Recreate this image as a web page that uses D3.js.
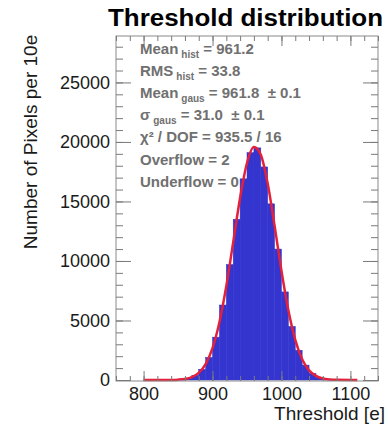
<!DOCTYPE html>
<html>
<head>
<meta charset="utf-8">
<script src="https://cdn.jsdelivr.net/npm/d3@7"></script>
<style>
  body { margin: 0; background: #fff; }
  text { font-family: "Liberation Sans", Arial, sans-serif; white-space: pre; }
</style>
</head>
<body>
<svg id="chart" width="388" height="428"></svg>
<script>
// histogram bins (left edge, 10e wide) and counts
let binEdges = [850, 860, 870, 880, 890, 900, 910, 920, 930, 940, 950, 960,
                970, 980, 990, 1000, 1010, 1020, 1030, 1040, 1050, 1060, 1070];
let binCounts = [50, 150, 390, 900, 1900, 3600, 6300, 9700, 13500, 16900, 19100, 19500,
                 17900, 14800, 11000, 7400, 4500, 2500, 1250, 560, 220, 80, 25];

let fitX = [800, 820, 840, 850, 860, 870, 880, 890, 900, 910, 920, 930, 940, 950, 960,
            970, 980, 990, 1000, 1010, 1020, 1030, 1040, 1050, 1060, 1070, 1080, 1100, 1110];
let fitY = [0, 1, 9, 30, 89, 245, 600, 1340, 2680, 4850, 7900, 11580, 15310, 18230, 19570,
            18920, 16500, 12960, 9170, 5850, 3370, 1740, 810, 343, 130, 44, 13, 1, 0];

let xTicks = [800, 900, 1000, 1100];
let yTicks = [0, 5000, 10000, 15000, 20000, 25000];

let stats = [
    ["Mean", "hist", " = 961.2"],
    ["RMS", "hist", " = 33.8"],
    ["Mean", "gaus", " = 961.8  \u00b1 0.1"],
    ["\u03c3", "gaus", " = 31.0  \u00b1 0.1"],
    ["\u03c7\u00b2 / DOF = 935.5 / 16", "", ""],
    ["Overflow = 2", "", ""],
    ["Underflow = 0", "", ""]
];

let frame = {left: 116, right: 378, top: 36, bottom: 381};

let svg = d3.select("#chart");

let x = d3.scaleLinear().domain([760, 1140]).range([frame.left, frame.right]);
let y = d3.scaleLinear().domain([0, 28900]).range([380, frame.top]);

// bars
svg.append("g")
    .selectAll("rect")
    .data(binEdges)
    .enter()
    .append("rect")
    .attr("x", d => x(d))
    .attr("width", d => x(d + 10) - x(d))
    .attr("y", (d, i) => y(binCounts[i]))
    .attr("height", (d, i) => y(0) - y(binCounts[i]))
    .attr("fill", "#3434cf")
    .attr("stroke", "#3434cf")
    .attr("stroke-width", 0.5);

// fit
let line = d3.line()
    .x(d => x(d[0]))
    .y(d => y(d[1]))
    .curve(d3.curveMonotoneX);

svg.append("path")
    .datum(fitX.map((v, i) => [v, fitY[i]]))
    .attr("d", line)
    .attr("fill", "none")
    .attr("stroke", "#e3213b")
    .attr("stroke-width", 2.5);

// frame
svg.append("rect")
    .attr("x", frame.left)
    .attr("y", frame.top)
    .attr("width", frame.right - frame.left)
    .attr("height", frame.bottom - frame.top)
    .attr("fill", "none")
    .attr("stroke", "#8a8a8a")
    .attr("stroke-width", 1);

function styleAxis(g) {
    g.select(".domain").remove();
    g.selectAll("line").attr("stroke", "#7a7a7a");
    g.selectAll("text")
        .attr("font-size", 18)
        .attr("fill", "#1a1a1a")
        .style("font-family", '"Liberation Sans", Arial, sans-serif');
}

let minorX = d3.range(760, 1141, 20);
let minorY = d3.range(0, 28001, 1000);

// bottom axis
svg.append("g")
    .attr("transform", `translate(0,${frame.bottom})`)
    .call(d3.axisBottom(x).tickValues(minorX).tickSize(-5).tickFormat(""))
    .call(styleAxis);
svg.append("g")
    .attr("transform", `translate(0,${frame.bottom})`)
    .call(d3.axisBottom(x).tickValues(xTicks).tickSize(-10).tickPadding(6).tickFormat(d3.format("d")))
    .call(styleAxis);

// top axis
svg.append("g")
    .attr("transform", `translate(0,${frame.top})`)
    .call(d3.axisTop(x).tickValues(minorX).tickSize(-5).tickFormat(""))
    .call(styleAxis);
svg.append("g")
    .attr("transform", `translate(0,${frame.top})`)
    .call(d3.axisTop(x).tickValues(xTicks).tickSize(-10).tickFormat(""))
    .call(styleAxis);

// left axis
svg.append("g")
    .attr("transform", `translate(${frame.left},0)`)
    .call(d3.axisLeft(y).tickValues(minorY).tickSize(-7).tickFormat(""))
    .call(styleAxis);
svg.append("g")
    .attr("transform", `translate(${frame.left},0)`)
    .call(d3.axisLeft(y).tickValues(yTicks).tickSize(-15).tickPadding(6).tickFormat(d3.format("d")))
    .call(styleAxis);

// right axis
svg.append("g")
    .attr("transform", `translate(${frame.right},0)`)
    .call(d3.axisRight(y).tickValues(minorY).tickSize(-7).tickFormat(""))
    .call(styleAxis);
svg.append("g")
    .attr("transform", `translate(${frame.right},0)`)
    .call(d3.axisRight(y).tickValues(yTicks).tickSize(-15).tickFormat(""))
    .call(styleAxis);

// title
svg.append("text")
    .attr("x", 108)
    .attr("y", 26)
    .attr("font-size", 23)
    .attr("font-weight", "bold")
    .attr("fill", "#000")
    .attr("textLength", 275)
    .attr("lengthAdjust", "spacingAndGlyphs")
    .text("Threshold distribution");

// axis titles
svg.append("text")
    .attr("x", 385)
    .attr("y", 420)
    .attr("text-anchor", "end")
    .attr("font-size", 19)
    .attr("fill", "#1a1a1a")
    .text("Threshold [e]");

svg.append("text")
    .attr("transform", "translate(37,142) rotate(-90)")
    .attr("text-anchor", "middle")
    .attr("font-size", 19)
    .attr("fill", "#1a1a1a")
    .text("Number of Pixels per 10e");

// stats text
let st = svg.append("g")
    .attr("fill", "#707070")
    .attr("font-weight", "bold");

stats.forEach(function (s, i) {
    let t = st.append("text")
        .attr("x", 140)
        .attr("y", 54 + i * 22.1)
        .attr("font-size", 15);
    t.append("tspan").text(s[0]);
    if (s[1]) {
        t.append("tspan").attr("dx", 3).attr("dy", 4).attr("font-size", 10).text(s[1]);
        t.append("tspan").attr("dy", -4).text(s[2]);
    }
});
</script>
</body>
</html>
